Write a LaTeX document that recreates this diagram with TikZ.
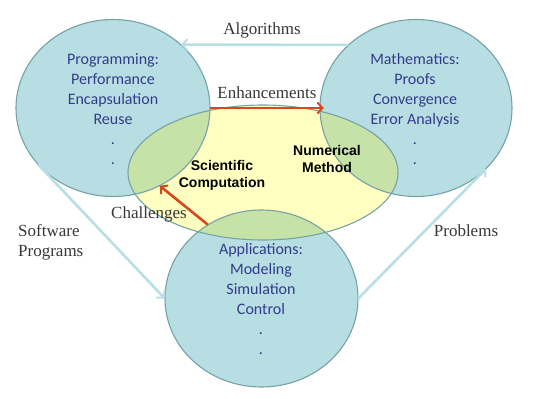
\documentclass[tikz,border=0pt]{standalone}
\usepackage{fontspec}
\setmainfont{Liberation Serif}
\newfontfamily\calfont{Carlito}
\newfontfamily\arialfont{Liberation Sans}
\usetikzlibrary{shapes.geometric,arrows.meta}

\definecolor{areafill}{RGB}{183,223,227}
\definecolor{corefill}{RGB}{255,255,194}
\definecolor{mixfill}{RGB}{199,226,167}
\definecolor{rimcol}{RGB}{118,162,166}
\definecolor{flowcol}{RGB}{184,224,228}
\definecolor{keycol}{RGB}{214,72,30}
\definecolor{areatext}{RGB}{52,58,138}
\definecolor{labeltext}{RGB}{55,55,55}

\tikzset{
  area/.style={ellipse, inner sep=0pt, fill=areafill,
    minimum width=194pt, minimum height=177pt},
  core/.style={ellipse, inner sep=0pt, fill=corefill,
    minimum width=270pt, minimum height=135pt},
  rim/.style={draw=rimcol, line width=1.1pt},
  areatxt/.style={font=\calfont\fontsize{16}{20}\selectfont, text=areatext,
    align=center, inner sep=0pt},
  coretxt/.style={font=\arialfont\bfseries\fontsize{14}{17.5}\selectfont,
    align=center, inner sep=0pt},
  lbl/.style={font=\fontsize{17}{20}\selectfont, text=labeltext, inner sep=0pt},
  flow/.style={draw=flowcol, line width=2.6pt,
    -{Straight Barb[length=5pt,width=11pt,line width=2pt]}},
  keyflow/.style={draw=keycol, line width=2.6pt,
    -{Straight Barb[length=5pt,width=11pt,line width=2pt]}}
}

\begin{document}
\begin{tikzpicture}[x=1pt,y=-1pt]
\useasboundingbox (0,0) rectangle (533,399);

% flows between the three outer areas (behind the areas)
\coordinate (progc) at (113,108);
\coordinate (mathc) at (416,108);
\coordinate (appc) at (261.5,298.5);

% area fills
\node[area] (prog) at (progc) {};
\node[area, minimum width=192pt] (math) at (mathc) {};
\node[area, minimum width=193pt] (app) at (appc) {};
\node[core] (core) at (263,172.5) {};

% overlaps of the core with each area
\begin{scope}
  \clip (263,172.5) ellipse [x radius=135pt, y radius=67.5pt];
  \fill[mixfill] (progc) ellipse [x radius=97pt, y radius=88.5pt];
  \fill[mixfill] (mathc) ellipse [x radius=96pt, y radius=88.5pt];
  \fill[mixfill] (appc) ellipse [x radius=96.5pt, y radius=88.5pt];
\end{scope}

% outlines
\draw[rim] (progc) ellipse [x radius=97pt, y radius=88.5pt];
\draw[rim] (mathc) ellipse [x radius=96pt, y radius=88.5pt];
\draw[rim] (appc) ellipse [x radius=96.5pt, y radius=88.5pt];
\draw[rim] (263,172.5) ellipse [x radius=135pt, y radius=67.5pt];

% connectors
\draw[flow] (math.137) -- (prog.43);
\draw[flow] (prog.217) -- (app.180);
\draw[flow] (app.0) -- (math.319);
\draw[keyflow] (prog.east) -- ([xshift=4pt]math.west);
\draw[keyflow] (app.126) -- (prog.301);

% texts of the areas
\node[areatxt] (progtxt) at (113,108.7)
  {Programming:\\Performance\\Encapsulation\\Reuse\\.\\.};
\node[areatxt] (mathtxt) at (415,108.7)
  {Mathematics:\\Proofs\\Convergence\\Error Analysis\\.\\.};
\node[areatxt] (apptxt) at (261,298.6)
  {Applications:\\Modeling\\Simulation\\Control\\.\\.};

\node[coretxt] (sci) at (222,175.5) {Scientific\\Computation};
\node[coretxt] (num) at (327,159) {Numerical\\Method};

% connector labels
\node[lbl, anchor=base] (alg) at (262,34.5) {Algorithms};
\node[lbl, anchor=base] (enh) at (267,98) {Enhancements};
\node[lbl, anchor=base] (chal) at (149,218) {Challenges};
\node[lbl, anchor=west, align=left] (soft) at (18,242) {Software\\Programs};
\node[lbl, anchor=base] (prob) at (466,236) {Problems};
\end{tikzpicture}
\end{document}
